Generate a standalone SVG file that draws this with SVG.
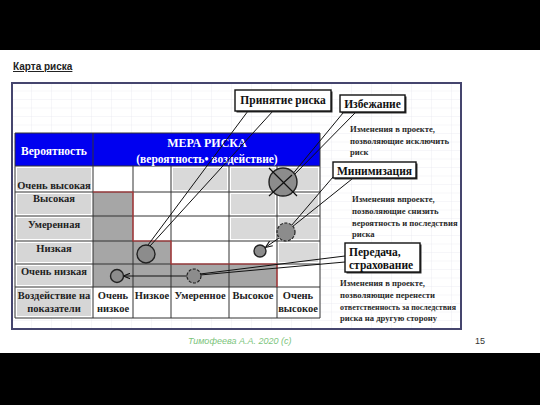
<svg xmlns="http://www.w3.org/2000/svg" width="540" height="405" viewBox="0 0 540 405">
<defs>
<style>
.serif{font-family:"Liberation Serif","DejaVu Serif",serif;font-weight:bold;}
.lbl{font-size:10.5px;fill:#222;text-anchor:middle;}
.hdr{fill:#fff;text-anchor:middle;}
.desc{font-size:8.6px;fill:#2a2a2a;}
.call{fill:#fff;stroke:#111;stroke-width:1.4;}
.shadow{fill:#333;}
.ctext{font-size:11.5px;fill:#111;}
.grid{fill:none;stroke:#333;stroke-width:1;}
.conn{fill:none;stroke:#111;stroke-width:1;}
.dot{fill:#8c8c8c;stroke:#222;stroke-width:1.4;}
.dash{fill:#8c8c8c;stroke:#222;stroke-width:1.2;stroke-dasharray:3 1.5;}
</style>
<pattern id="sheet" x="12" y="83" width="20" height="8.5" patternUnits="userSpaceOnUse">
<path d="M20,0 V8.5 M0,8.5 H20" fill="none" stroke="#e8e8ef" stroke-width="0.8"/>
</pattern>
<marker id="arr" viewBox="0 0 10 10" refX="9" refY="5" markerWidth="7" markerHeight="7" orient="auto-start-reverse">
<path d="M0,1 L10,5 L0,9" fill="none" stroke="#111" stroke-width="1.5"/>
</marker>
</defs>
<rect x="0" y="0" width="540" height="405" fill="#fff"/>
<rect x="0" y="0" width="540" height="50" fill="#000"/>
<rect x="0" y="353" width="540" height="52" fill="#000"/>

<g id="title">
<text x="13" y="70" font-family="Liberation Sans, Arial, sans-serif" font-weight="bold" font-size="10" fill="#222" text-decoration="underline">Карта риска</text>
</g>

<g id="frame">
<rect x="12" y="83" width="449" height="246" fill="#fff"/>
<rect x="12" y="83" width="449" height="246" fill="url(#sheet)"/>
<rect x="12" y="83" width="449" height="246" fill="none" stroke="#45456e" stroke-width="2"/>
</g>

<g id="table">
<rect x="15" y="133" width="305" height="185" fill="#fff"/>
<rect x="15" y="133" width="305" height="33" fill="#0000f0"/>
<g fill="#d6d6d6">
<rect x="17" y="168" width="74" height="22"/>
<rect x="17" y="194" width="74" height="20"/>
<rect x="17" y="218" width="74" height="21"/>
<rect x="17" y="243" width="74" height="19"/>
<rect x="17" y="266" width="74" height="19"/>
<rect x="17" y="289" width="74" height="27"/>
</g>
<g fill="#d9d9d9">
<rect x="173" y="168" width="54" height="22"/>
<rect x="231" y="168" width="44" height="22"/>
<rect x="279" y="168" width="39" height="22"/>
<rect x="231" y="194" width="44" height="20"/>
<rect x="279" y="194" width="39" height="20"/>
<rect x="231" y="218" width="44" height="21"/>
<rect x="279" y="218" width="39" height="21"/>
<rect x="279" y="243" width="39" height="19"/>
</g>
<path d="M93,192 H133 V241 H171 V264 H277 V287 H93 Z" fill="#a6a6a6"/>
<path class="grid" d="M15,133 H320 V318 H15 Z M93,133 V318 M133,166 V318 M171,166 V318 M229,166 V318 M277,166 V318 M15,166 H320 M15,192 H320 M15,216 H320 M15,241 H320 M15,264 H320 M15,287 H320"/>
<path d="M93,192 H133 V241 H171 V264 H277 V287" fill="none" stroke="#c0393b" stroke-width="1.2"/>
<g class="serif">
<text class="hdr" x="54" y="155" font-size="11.5">Вероятность</text>
<text class="hdr" x="207" y="147" font-size="12">МЕРА РИСКА</text>
<text class="hdr" x="207" y="163" font-size="11.5">(вероятность• воздействие)</text>
<text class="lbl" x="54" y="189">Очень высокая</text>
<text class="lbl" x="54" y="202">Высокая</text>
<text class="lbl" x="54" y="228">Умеренная</text>
<text class="lbl" x="54" y="252">Низкая</text>
<text class="lbl" x="54" y="275">Очень низкая</text>
<text class="lbl" x="54" y="299">Воздействие на</text>
<text class="lbl" x="54" y="312">показатели</text>
<text class="lbl" x="113" y="299">Очень</text>
<text class="lbl" x="113" y="312">низкое</text>
<text class="lbl" x="152" y="299">Низкое</text>
<text class="lbl" x="200" y="299">Умеренное</text>
<text class="lbl" x="253" y="299">Высокое</text>
<text class="lbl" x="298" y="299">Очень</text>
<text class="lbl" x="298" y="312">высокое</text>
</g>
</g>

<g id="connectors">
<line class="conn" x1="248" y1="111" x2="148" y2="245"/>
<line class="conn" x1="273" y1="111" x2="150" y2="246"/>
<line class="conn" x1="343" y1="113" x2="291" y2="176"/>
<line class="conn" x1="355" y1="113" x2="292" y2="177"/>
<line class="conn" x1="333" y1="177" x2="291" y2="226"/>
<line class="conn" x1="352" y1="179" x2="292" y2="227"/>
<line class="conn" x1="345" y1="256" x2="200" y2="274"/>
<line class="conn" x1="345" y1="262" x2="200" y2="275"/>
<line class="conn" x1="187" y1="276" x2="124" y2="276" marker-end="url(#arr)"/>
<line class="conn" x1="279" y1="238" x2="266" y2="247" marker-end="url(#arr)"/>
</g>

<g id="risk-circles">
<g id="avoid-circle">
<circle class="dot" cx="283" cy="182" r="14"/>
<path d="M269,168 L297,196 M269,196 L292,175" stroke="#111" stroke-width="1.2"/>
</g>
<circle id="accept-circle" class="dot" cx="146" cy="254" r="9"/>
<circle id="transfer-target" class="dot" cx="117" cy="276" r="6.5"/>
<circle id="transfer-source" class="dash" cx="194" cy="276" r="7"/>
<circle id="minimize-source" class="dash" cx="286" cy="232" r="9"/>
<circle id="minimize-target" class="dot" cx="260" cy="251" r="6"/>
</g>

<g id="callout-accept">
<rect class="shadow" x="236.5" y="91.5" width="96" height="21"/>
<rect class="call" x="235" y="90" width="96" height="21"/>
<text class="serif ctext" x="283" y="104" text-anchor="middle" font-size="11">Принятие риска</text>
</g>
<g id="callout-avoid">
<rect class="shadow" x="341.5" y="96.5" width="65" height="17"/>
<rect class="call" x="340" y="95" width="65" height="17"/>
<text class="serif ctext" x="372.5" y="108" text-anchor="middle">Избежание</text>
</g>
<g id="callout-minimize">
<rect class="shadow" x="334.5" y="163.5" width="83" height="16"/>
<rect class="call" x="333" y="162" width="83" height="16"/>
<text class="serif ctext" x="374.5" y="174.5" text-anchor="middle">Минимизация</text>
</g>
<g id="callout-transfer">
<rect class="shadow" x="346.5" y="244.5" width="75" height="29"/>
<rect class="call" x="345" y="243" width="75" height="29"/>
<text class="serif ctext" x="349" y="256" font-size="12">Передача,</text>
<text class="serif ctext" x="349" y="269" font-size="12">страхование</text>
</g>

<g id="descriptions" class="serif desc">
<text x="350" y="132">Изменения в проекте,</text>
<text x="350" y="144">позволяющие исключить</text>
<text x="350" y="155">риск</text>
<text x="352" y="202">Изменения впроекте,</text>
<text x="352" y="214">позволяющие снизить</text>
<text x="352" y="226">вероятность и последствия</text>
<text x="352" y="237">риска</text>
<text x="340" y="286">Изменения в проекте,</text>
<text x="340" y="298">позволяющие перенести</text>
<text x="340" y="310" textLength="116" lengthAdjust="spacingAndGlyphs">ответственность за последствия</text>
<text x="340" y="321">риска на другую сторону</text>
</g>

<g id="footer">
<text x="188" y="344" font-family="Liberation Sans, Arial, sans-serif" font-style="italic" font-size="9" fill="#7cc47c">Тимофеева А.А. 2020 (с)</text>
<text x="475" y="344" font-family="Liberation Sans, Arial, sans-serif" font-size="9" fill="#333">15</text>
</g>
</svg>
